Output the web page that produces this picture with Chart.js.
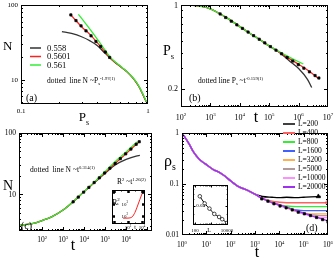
<!DOCTYPE html>
<html><head><meta charset="utf-8">
<script src="https://cdn.jsdelivr.net/npm/chart.js@4"></script>
<style>html,body{margin:0;padding:0;background:#fff;overflow:hidden;width:335px;height:258px}
canvas{position:absolute;left:0;top:0}</style></head>
<body>
<canvas id="ca" width="335" height="258"></canvas>
<canvas id="cb" width="335" height="258"></canvas>
<canvas id="cc" width="335" height="258"></canvas>
<canvas id="cd" width="335" height="258"></canvas>
<canvas id="cci" width="335" height="258"></canvas>
<canvas id="cdi" width="335" height="258"></canvas>
<script>
// ---------- Panel (a): N vs P_s ----------
const aLegend = ['0.558', '0.5601', '0.561'];
const aP_black = [0.21, 0.25, 0.3, 0.35, 0.4, 0.45, 0.5, 0.55, 0.6, 0.65, 0.7, 0.75, 0.8, 0.85, 0.9, 0.95, 1.0];
const aN_black = [44, 41.5, 37.5, 33, 28.5, 23.3, 19.6, 17, 15.2, 13.6, 12.2, 10.8, 9.4, 8.0, 6.6, 5.4, 4.6];
const aP_red = [0.243, 0.27, 0.3, 0.35, 0.4, 0.45, 0.5, 0.55, 0.6, 0.65, 0.7, 0.75, 0.8, 0.85, 0.9, 0.95, 1.0];
const aN_red = [76, 62, 51, 40, 31, 24.5, 19.8, 17, 15.2, 13.6, 12.2, 10.8, 9.4, 8.0, 6.6, 5.4, 4.6];
const aP_green = [0.283, 0.3, 0.35, 0.4, 0.45, 0.5, 0.55, 0.6, 0.65, 0.7, 0.75, 0.8, 0.85, 0.9, 0.95, 1.0];
const aN_green = [75, 66, 47, 34.5, 26, 20.3, 17.3, 15.4, 13.7, 12.3, 10.9, 9.5, 8.1, 6.7, 5.5, 4.6];
const aDotP = [0.247, 0.271, 0.297, 0.325, 0.356, 0.389, 0.424, 0.461, 0.499];
const aDotN = [73.6, 61.8, 52.5, 45, 38.6, 32.4, 27.8, 23.4, 19.8];

// ---------- Panel (b): P_s vs t ----------
const bT_black = [100, 200, 500, 1e3, 2e3, 4e3, 1e4, 2e4, 5e4, 1e5, 2e5, 5e5, 1e6, 2e6, 2.8e6];
const bP_black = [1.0, 0.998, 0.975, 0.93, 0.85, 0.77, 0.66, 0.59, 0.51, 0.455, 0.41, 0.34, 0.295, 0.24, 0.205];
const bT_red = [100, 200, 500, 1e3, 2e3, 4e3, 1e4, 2e4, 5e4, 1e5, 2e5, 5e5, 1e6, 2e6, 4.7e6];
const bP_red = [1.0, 0.998, 0.975, 0.93, 0.85, 0.77, 0.66, 0.59, 0.51, 0.455, 0.41, 0.355, 0.32, 0.287, 0.245];
const bT_green = [100, 200, 500, 1e3, 2e3, 4e3, 1e4, 2e4, 5e4, 1e5, 2e5, 5e5, 1e6, 1.45e6];
const bP_green = [1.0, 0.998, 0.975, 0.93, 0.85, 0.77, 0.66, 0.59, 0.51, 0.456, 0.413, 0.366, 0.336, 0.322];
const bDotT = [2140, 3310, 5130, 7940, 12300, 19100, 29500, 45700, 70800, 110000, 170000, 263000, 407000, 631000, 977000, 1510000, 2340000, 3630000, 4900000];
const bDotP = [0.842, 0.786, 0.733, 0.683, 0.638, 0.595, 0.555, 0.518, 0.483, 0.450, 0.420, 0.392, 0.365, 0.341, 0.318, 0.297, 0.277, 0.258, 0.246];

// ---------- Panel (c): N vs t ----------
const cT_black = [8, 20, 50, 100, 300, 1e3, 3e3, 1e4, 3e4, 1e5, 3e5, 1e6, 3e6, 4.5e6];
const cN_black = [3.1, 3.2, 3.4, 3.7, 4.3, 5.5, 7.5, 11, 15.3, 22, 30, 37, 42, 43];
const cT_red = [8, 20, 50, 100, 300, 1e3, 3e3, 1e4, 3e4, 1e5, 3e5, 1e6, 3e6, 4.5e6];
const cN_red = [3.1, 3.2, 3.4, 3.7, 4.3, 5.5, 7.5, 11, 15.5, 22.5, 32, 46, 65, 74];
const cT_green = [8, 20, 50, 100, 300, 1e3, 3e3, 1e4, 3e4, 1e5, 3e5, 1e6, 3e6, 3.5e6];
const cN_green = [3.1, 3.2, 3.4, 3.7, 4.3, 5.5, 7.5, 11, 15.6, 23.5, 34, 49, 69, 72];
const cDotT = [3000, 5300, 9500, 16900, 30000, 53000, 95000, 169000, 300000, 530000, 950000, 1690000, 3000000, 4200000];
const cDotN = [7.5, 8.96, 10.8, 12.9, 15.5, 18.5, 22.2, 26.6, 31.8, 38.1, 45.6, 54.6, 65.4, 72];
// inset (c): R_s^2 vs t
const ciT = [20, 50, 100, 200, 400, 1000, 2000, 5000, 14000];
const ciR = [66, 66, 67, 70, 85, 200, 550, 2400, 12000];

// ---------- Panel (d): rho_s vs t ----------
const dLabels = ['L=200', 'L=400', 'L=800', 'L=1600', 'L=3200', 'L=5000', 'L=10000', 'L=20000'];
const dT = [1, 2, 3, 5, 7, 10, 20, 30, 50, 100, 200, 500, 1000, 2000, 5000, 1e4, 2e4, 5e4, 1e5, 2e5, 5e5, 1e6];
const dR_200   = [1, 0.6, 0.42, 0.31, 0.27, 0.24, 0.19, 0.175, 0.15, 0.115, 0.09, 0.075, 0.063, 0.057, 0.055, 0.054, 0.055, 0.054, 0.055, 0.056, 0.057, null];
const dR_400   = [1, 0.6, 0.42, 0.31, 0.27, 0.24, 0.19, 0.175, 0.15, 0.115, 0.09, 0.075, 0.063, 0.053, 0.046, 0.044, 0.043, 0.043, 0.043, 0.043, 0.043, 0.043];
const dR_800   = [1, 0.6, 0.42, 0.31, 0.27, 0.24, 0.19, 0.175, 0.15, 0.115, 0.09, 0.075, 0.063, 0.052, 0.044, 0.039, 0.037, 0.036, 0.036, 0.036, 0.036, 0.036];
const dR_1600  = [1, 0.6, 0.42, 0.31, 0.27, 0.24, 0.19, 0.175, 0.15, 0.115, 0.09, 0.075, 0.063, 0.052, 0.043, 0.038, 0.034, 0.031, 0.030, 0.030, 0.030, 0.030];
const dR_3200  = [1, 0.6, 0.42, 0.31, 0.27, 0.24, 0.19, 0.175, 0.15, 0.115, 0.09, 0.075, 0.063, 0.052, 0.043, 0.039, 0.034, 0.029, 0.027, 0.026, 0.026, 0.026];
const dR_5000  = [1, 0.6, 0.42, 0.31, 0.27, 0.24, 0.19, 0.175, 0.15, 0.115, 0.09, 0.075, 0.063, 0.052, 0.043, 0.039, 0.035, 0.029, 0.026, 0.025, 0.024, 0.024];
const dR_10000 = [1, 0.6, 0.42, 0.31, 0.27, 0.24, 0.19, 0.175, 0.15, 0.115, 0.09, 0.075, 0.063, 0.052, 0.043, 0.039, 0.035, 0.030, 0.026, 0.024, 0.022, 0.022];
const dR_20000 = [1, 0.6, 0.42, 0.31, 0.27, 0.24, 0.19, 0.175, 0.15, 0.115, 0.09, 0.075, 0.063, 0.052, 0.043, 0.039, 0.035, 0.030, 0.027, 0.024, 0.021, 0.019];
const dDotT = [1900, 3400, 6000, 10700, 19000, 34000, 60000, 107000, 190000, 340000, 600000, 1000000];
const dDotR = [0.051, 0.046, 0.041, 0.037, 0.034, 0.031, 0.028, 0.026, 0.024, 0.022, 0.020, 0.018];
const dEnd200T = [4e5], dEnd200R = [0.057];
const dEnd400T = [1e6], dEnd400R = [0.043];
// inset (d): plateau vs L
const diL = [200, 400, 800, 1600, 3200, 5000, 10000];
const diR = [0.055, 0.043, 0.036, 0.030, 0.027, 0.025, 0.022];

// ---------- helpers ----------
const SERIF = '"Liberation Serif","DejaVu Serif","Times New Roman",serif';
const W = 335, H = 258;
function rich(ctx, x, y, parts, size, align) {
  let w = 0;
  const segs = parts.map(p => {
    const [t, m] = Array.isArray(p) ? p : [p, 0];
    const fs = m ? size * 0.62 : size;
    ctx.font = fs + 'px ' + SERIF;
    const ww = ctx.measureText(t).width; w += ww;
    return { t, m, fs, ww };
  });
  let cx = align === 'center' ? x - w / 2 : align === 'right' ? x - w : x;
  ctx.textAlign = 'left'; ctx.textBaseline = 'alphabetic'; ctx.fillStyle = '#000';
  for (const s of segs) {
    ctx.font = s.fs + 'px ' + SERIF;
    const dy = s.m === 1 ? -size * 0.45 : s.m === -1 ? size * 0.28 : 0;
    ctx.fillText(s.t, cx, y + dy); cx += s.ww;
  }
}
function logMinor(lo, hi) {
  const out = [];
  for (let k = Math.floor(Math.log10(lo)) - 1; k <= Math.ceil(Math.log10(hi)); k++)
    for (let m = 2; m <= 9; m++) { const v = m * Math.pow(10, k); if (v > lo * 1.0001 && v < hi * 0.9999) out.push(v); }
  return out;
}
function pw(e) { return [['10', 0], [String(e), 1]]; }

function axisPlugin(cfg) {
  return {
    id: 'axes',
    beforeDraw(chart) {
      if (cfg.fill) { const a = chart.chartArea, c = chart.ctx; c.save(); c.fillStyle = '#fff'; c.fillRect(a.left, a.top, a.right - a.left, a.bottom - a.top); c.restore(); }
    },
    afterDraw(chart) {
      const ctx = chart.ctx, a = chart.chartArea, xs = chart.scales.x, ys = chart.scales.y;
      ctx.save();
      ctx.strokeStyle = '#000'; ctx.lineWidth = cfg.lw || 1;
      ctx.strokeRect(Math.round(a.left) + 0.5, Math.round(a.top) + 0.5, Math.round(a.right - a.left) - 1, Math.round(a.bottom - a.top) - 1);
      const ML = cfg.ml || 4, mL = cfg.mnl || 2;
      const xt = (vals, len) => vals.forEach(v => { const p = Math.round(xs.getPixelForValue(v)) + 0.5; if (p < a.left || p > a.right) return; ctx.moveTo(p, a.bottom); ctx.lineTo(p, a.bottom - len); ctx.moveTo(p, a.top); ctx.lineTo(p, a.top + len); });
      const yt = (vals, len) => vals.forEach(v => { const p = Math.round(ys.getPixelForValue(v)) + 0.5; if (p < a.top || p > a.bottom) return; ctx.moveTo(a.left, p); ctx.lineTo(a.left + len, p); ctx.moveTo(a.right, p); ctx.lineTo(a.right - len, p); });
      ctx.lineWidth = 1; ctx.beginPath();
      xt(cfg.xMinor || [], mL); yt(cfg.yMinor || [], mL); ctx.stroke();
      ctx.lineWidth = cfg.tw || 1; ctx.beginPath();
      xt(cfg.xMajor || [], ML); yt(cfg.yMajor || [], ML); ctx.stroke();
      const ls = cfg.labelSize || 7.5;
      (cfg.xLabels || []).forEach(([v, parts]) => rich(ctx, xs.getPixelForValue(v), a.bottom + cfg.xLabelDy, parts, ls, 'center'));
      (cfg.yLabels || []).forEach(([v, parts]) => rich(ctx, a.left - (cfg.yLabelDx || 3), ys.getPixelForValue(v) + ls * 0.33, parts, ls, 'right'));
      (cfg.texts || []).forEach(t => rich(ctx, t.x, t.y, t.parts, t.size, t.align || 'left'));
      (cfg.legend || []).forEach(l => {
        ctx.strokeStyle = l.color; ctx.lineWidth = l.lw || 1.5;
        ctx.beginPath(); ctx.moveTo(l.x1, l.y); ctx.lineTo(l.x2, l.y); ctx.stroke();
        rich(ctx, l.tx, l.y + l.size * 0.33, [l.text], l.size, 'left');
      });
      ctx.restore();
    }
  };
}
function pts(xs, ys) { return xs.map((x, i) => ({ x, y: ys[i] })).filter(p => p.y !== null); }
function line(xs, ys, color, w, order) {
  return { data: pts(xs, ys), borderColor: color, borderWidth: w || 1.3, showLine: true, pointRadius: 0, cubicInterpolationMode: 'monotone', fill: false, order: order || 5 };
}
function dots(xs, ys, style, r, fillC, strokeC) {
  return { data: pts(xs, ys), showLine: false, pointStyle: style || 'rect', pointRadius: r || 1.6, pointBackgroundColor: fillC || '#000', pointBorderColor: strokeC || '#000', pointBorderWidth: 0.7, order: 0 };
}
function panel(id, box, xr, yr, datasets, cfg) {
  return new Chart(document.getElementById(id), {
    type: 'scatter',
    data: { datasets },
    options: {
      responsive: false, animation: false, devicePixelRatio: 1,
      layout: { padding: { left: box[0], top: box[1], right: W - box[2], bottom: H - box[3] } },
      scales: {
        x: { type: 'logarithmic', min: xr[0], max: xr[1], display: false },
        y: { type: 'logarithmic', min: yr[0], max: yr[1], display: false }
      },
      plugins: { legend: { display: false }, tooltip: { enabled: false } },
      events: []
    },
    plugins: [axisPlugin(cfg)]
  });
}

// ---------- (a) ----------
panel('ca', [21, 5, 148, 104], [0.1, 1], [4.7, 100], [
  line(aP_black, aN_black, '#333', 1.3, 3),
  line(aP_red, aN_red, '#ff2020', 1.3, 2),
  line(aP_green, aN_green, '#33ee33', 1.3, 1),
  dots(aDotP, aDotN)
], {
  xMajor: [0.1, 1], xMinor: logMinor(0.1, 1), yMajor: [10, 100], yMinor: logMinor(4.7, 100),
  xLabels: [[0.1, ['0.1']], [1, ['1']]], xLabelDy: 9, yLabels: [[10, ['10']], [100, ['100']]], labelSize: 7,
  texts: [
    { x: 3, y: 50, parts: ['N'], size: 13 },
    { x: 84, y: 121, parts: [['P', 0], ['s', -1]], size: 13, align: 'center' },
    { x: 47, y: 83, parts: [['dotted  line N ~P', 0], ['s', -1], ['-1.97(1)', 1]], size: 7.5 },
    { x: 26, y: 101, parts: ['(a)'], size: 10 }
  ],
  legend: [
    { x1: 30, x2: 41, y: 48, color: '#333', text: aLegend[0], tx: 47, size: 8.5 },
    { x1: 30, x2: 41, y: 56.5, color: '#ff2020', text: aLegend[1], tx: 47, size: 8.5 },
    { x1: 30, x2: 41, y: 65, color: '#33ee33', text: aLegend[2], tx: 47, size: 8.5 }
  ]
});

// ---------- (b) ----------
panel('cb', [181, 5, 328, 107], [100, 1e7], [0.141, 1], [
  line(bT_black, bP_black, '#333', 1.3, 3),
  line(bT_red, bP_red, '#ff2020', 1.3, 2),
  line(bT_green, bP_green, '#33ee33', 1.3, 1),
  dots(bDotT, bDotP)
], {
  xMajor: [1e2, 1e3, 1e4, 1e5, 1e6, 1e7], xMinor: logMinor(100, 1e7), yMajor: [0.2, 1], yMinor: [0.3, 0.4, 0.5, 0.6, 0.7, 0.8, 0.9],
  xLabels: [2, 3, 4, 5, 6, 7].map(e => [Math.pow(10, e), pw(e)]), xLabelDy: 13,
  yLabels: [[0.2, ['0.2']], [1, ['1']]], labelSize: 8,
  texts: [
    { x: 163, y: 55, parts: [['P', 0], ['s', -1]], size: 14 },
    { x: 256, y: 122, parts: ['t'], size: 16, align: 'center' },
    { x: 198, y: 83, parts: [['dotted line P', 0], ['s', -1], [' ~t', 0], ['-0.159(1)', 1]], size: 7.5 },
    { x: 189, y: 101, parts: ['(b)'], size: 10 }
  ],
  legend: [{ x1: 283, x2: 295, y: 124, color: '#000', text: dLabels[0], tx: 298, size: 7.5 }]
});

// ---------- (c) ----------
panel('cc', [19, 133, 152, 231], [8, 1.7e7], [2.5, 100], [
  line(cT_black, cN_black, '#333', 1.3, 3),
  line(cT_red, cN_red, '#ff2020', 1.3, 2),
  line(cT_green, cN_green, '#33ee33', 1.3, 1),
  dots(cDotT, cDotN)
], {
  xMajor: [1e1, 1e2, 1e3, 1e4, 1e5, 1e6, 1e7], xMinor: logMinor(8, 1.7e7), yMajor: [10, 100], yMinor: logMinor(2.5, 100),
  xLabels: [2, 3, 4, 5, 6].map(e => [Math.pow(10, e), pw(e)]), xLabelDy: 11,
  yLabels: [[10, ['10']], [100, ['100']]], labelSize: 7.5,
  texts: [
    { x: 3, y: 190, parts: ['N'], size: 14 },
    { x: 73, y: 250, parts: ['t'], size: 16, align: 'center' },
    { x: 30, y: 172, parts: [['dotted  line N ~t', 0], ['0.314(1)', 1]], size: 7.5 },
    { x: 21, y: 229, parts: ['(c)'], size: 10 },
    { x: 117, y: 184, parts: [['R', 0], ['2', 1], [' ~t', 0], ['1.26(2)', 1]], size: 7.5 }
  ]
});
// inset (c)
panel('cci', [112, 190, 145, 224], [0.518, 2.7e4], [21.5, 1.47e4], [
  line(ciT, ciR, '#ff2020', 1, 1)
], {
  fill: true, ml: 3, mnl: 1.5, tw: 2.5,
  xMajor: [1, 100, 1e4], xMinor: [10, 1000], yMajor: [1e2, 1e3, 1e4], yMinor: [],
  xLabels: [[1e2, pw(2)], [1e4, pw(4)]], xLabelDy: 5, yLabels: [[1e2, pw(2)], [1e3, pw(3)]], labelSize: 5, yLabelDx: -16,
  texts: [
    { x: 112, y: 205, parts: [['R', 0], ['2', 1]], size: 8 },
    { x: 117, y: 208, parts: [['s', 1]], size: 6 },
    { x: 135, y: 229, parts: ['t'], size: 6, align: 'center' }
  ]
});

// ---------- (d) ----------
const dColors = ['#000000', '#ff6060', '#33ee33', '#4060ff', '#ffb050', '#b09a9a', '#ff90ff', '#a030f0'];
const dSeries = [dR_200, dR_400, dR_800, dR_1600, dR_3200, dR_5000, dR_10000, dR_20000];
panel('cd', [182, 133, 328, 235], [1, 1e6], [0.01, 1],
  dSeries.map((s, i) => line(dT, s, dColors[i], 1.4, 10 - i))
    .concat([dots(dDotT, dDotR), dots(dEnd200T, dEnd200R, 'triangle', 2.5, '#000'), dots(dEnd400T, dEnd400R, 'circle', 2.3, 'rgba(0,0,0,0)', '#ff3030')]), {
  xMajor: [1, 10, 100, 1e3, 1e4, 1e5, 1e6], xMinor: logMinor(1, 1e6), yMajor: [0.01, 0.1, 1], yMinor: logMinor(0.01, 1),
  xLabels: [0, 1, 2, 3, 4, 5, 6].map(e => [Math.pow(10, e), pw(e)]), xLabelDy: 12,
  yLabels: [[0.01, ['0.01']], [0.1, ['0.1']], [1, ['1']]], labelSize: 7.5,
  texts: [
    { x: 164, y: 166, parts: [['ρ', 0], ['s', -1]], size: 16 },
    { x: 257, y: 257, parts: ['t'], size: 16, align: 'center' },
    { x: 306, y: 231, parts: ['(d)'], size: 10 }
  ],
  legend: dLabels.slice(1).map((t, i) => ({ x1: 283, x2: 295, y: 133 + 9 * i, color: dColors[i + 1], text: t, tx: 298, size: 7.5, lw: 2 }))
});
// inset (d)
panel('cdi', [193, 185, 228, 225], [75, 11500], [0.0205, 0.081], [
  line(diL, diR, '#000', 1, 2),
  dots(diL, diR, 'circle', 1.8, '#fff')
], {
  fill: true, ml: 2.5, mnl: 1.3,
  xMajor: [100, 1000, 10000], xMinor: logMinor(75, 11500), yMajor: [0.04], yMinor: [0.03, 0.05, 0.06, 0.07, 0.08],
  xLabels: [[100, ['100']], [10000, ['10000']]], xLabelDy: 7, yLabels: [[0.04, ['0.04']]], labelSize: 5, yLabelDx: -12,
  texts: [{ x: 209, y: 232, parts: ['L'], size: 6, align: 'center' }]
});
</script>
</body></html>
